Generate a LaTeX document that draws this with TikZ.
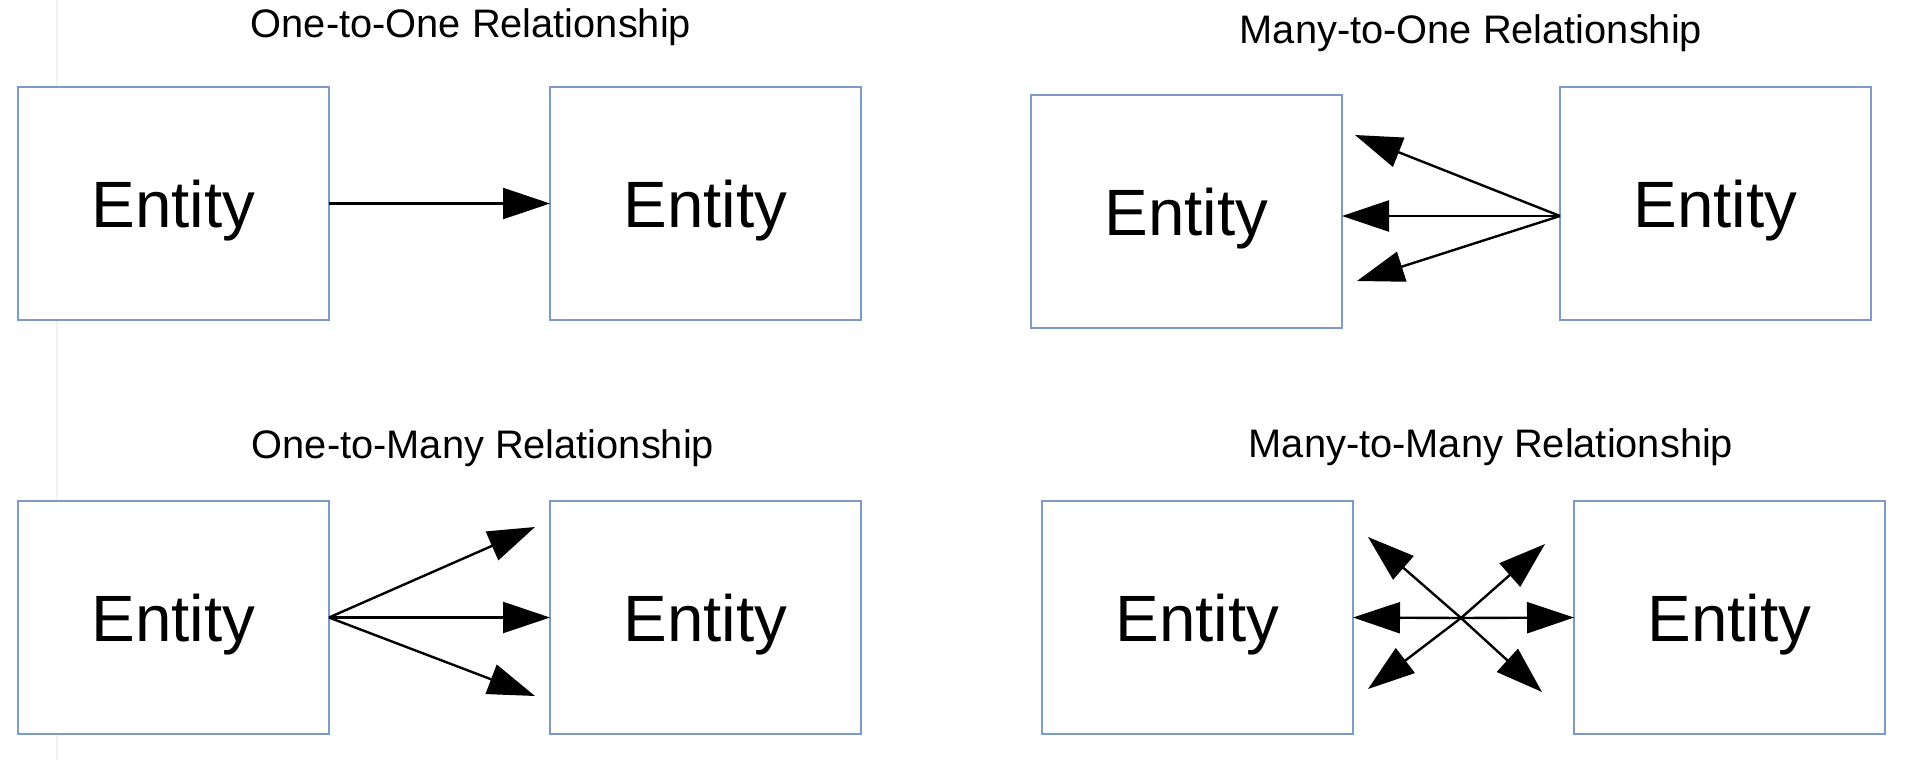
\documentclass[tikz,border=0pt]{standalone}
\usepackage{fontspec}
\setmainfont{Liberation Sans}
\usetikzlibrary{arrows.meta}
\definecolor{boxblue}{HTML}{7B9BCB}
\begin{document}
\begin{tikzpicture}[x=1pt,y=-1pt,
  entity/.style={draw=boxblue, line width=2pt, fill=white, minimum width=311pt,
    minimum height=233pt, inner sep=0pt, outer sep=0pt,
    font=\fontsize{65.5}{72}\selectfont, text height=47pt, text depth=0pt, anchor=north west},
  title/.style={anchor=base, inner sep=0pt, font=\fontsize{39.8}{46}\selectfont},
  rel/.style={line width=2.4pt, -{Triangle[length=47pt,width=31pt]}}]
\useasboundingbox (0,0) rectangle (1914,760);
\draw[black!5, line width=1.5pt] (57,0) -- (57,760);

% One-to-One
\node[title] (t1) at (471,38) {One-to-One Relationship};
\node[entity] (A) at (18,87) {Entity};
\node[entity] (B) at (550,87) {Entity};
\draw[rel] (A.east) -- (B.west);

% Many-to-One
\node[title] (t2) at (1471,44) {Many-to-One Relationship};
\node[entity] (C) at (1031,95) {Entity};
\node[entity] (D) at (1560,87) {Entity};
\coordinate (s2) at (1560,216);
\coordinate (c2m) at (1342,216);
\coordinate (c2u) at (1355,135);
\coordinate (c2d) at (1357,281);
\draw[rel] (s2) -- (c2m);
\draw[rel] (s2) -- (c2u);
\draw[rel] (s2) -- (c2d);

% One-to-Many
\node[title] (t3) at (483,458) {One-to-Many Relationship};
\node[entity] (E) at (18,501) {Entity};
\node[entity] (F) at (550,501) {Entity};
\coordinate (f3u) at (535,527);
\coordinate (f3d) at (535,696);
\draw[rel] (E.east) -- (F.west);
\draw[rel] (E.east) -- (f3u);
\draw[rel] (E.east) -- (f3d);

% Many-to-Many
\node[title] (t4) at (1491,457) {Many-to-Many Relationship};
\node[entity] (G) at (1042,501) {Entity};
\node[entity] (H) at (1574,501) {Entity};
\coordinate (m) at (1461,618);
\coordinate (mul) at (1368,537);
\coordinate (mur) at (1545,544);
\coordinate (mdl) at (1368,689);
\coordinate (mdr) at (1542,692);
\draw[rel] (m) -- (G.east);
\draw[rel] (m) -- (H.west);
\draw[rel] (m) -- (mul);
\draw[rel] (m) -- (mur);
\draw[rel] (m) -- (mdl);
\draw[rel] (m) -- (mdr);
\end{tikzpicture}
\end{document}
